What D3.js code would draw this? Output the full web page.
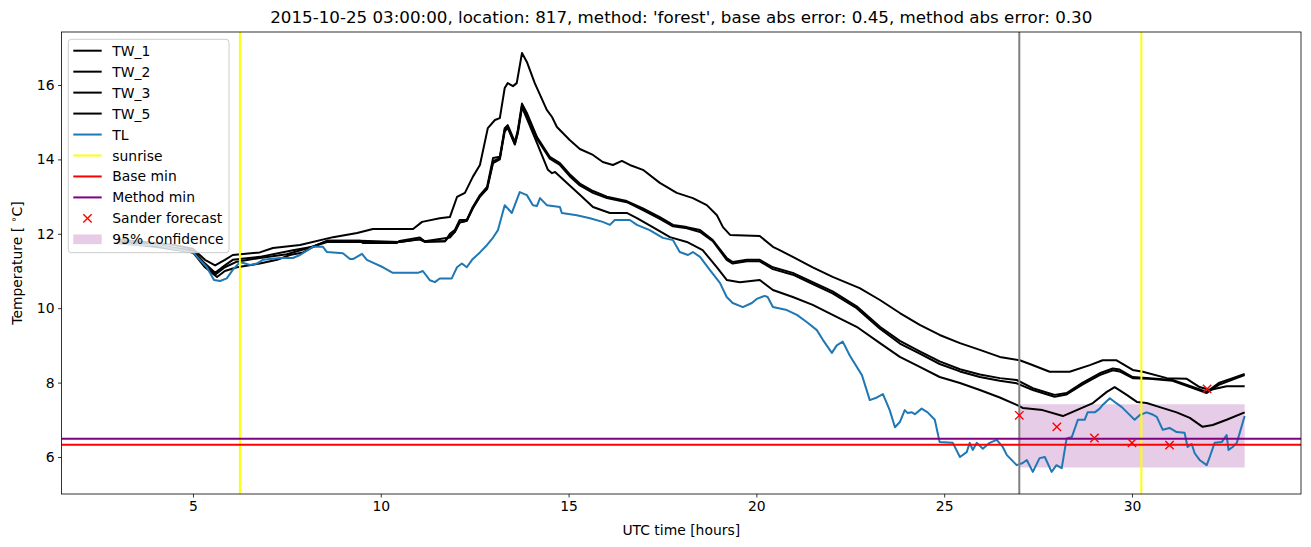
<!DOCTYPE html>
<html><head><meta charset="utf-8">
<script src="https://cdn.jsdelivr.net/npm/d3@7"></script>
<style>body{margin:0;background:#fff} svg{display:block} text{font-family:"DejaVu Sans",sans-serif;fill:#000}</style>
</head><body><svg id="c" width="1311" height="547"></svg>
<script>
// ---- data (hours since start of day UTC, temperature in °C) ----
const tw1Readings = [[3,11.85],[4,11.75],[4.5,11.7],[5,11.6],[5.32,11.3],[5.59,11.15],[5.85,11.3],[6.06,11.43],[6.78,11.5],[7.13,11.62],[7.85,11.7],[8.73,11.91],[9.37,12.02],[9.79,12.13],[10.86,12.13],[11.1,12.32],[11.57,12.42],[11.84,12.45],[12.03,12.99],[12.24,13.1],[12.45,13.53],[12.64,13.85],[12.85,14.84],[13.04,15.06],[13.17,15.11],[13.3,15.92],[13.38,16.05],[13.52,15.97],[13.62,16.05],[13.76,16.86],[13.89,16.62],[14.1,16.05],[14.42,15.33],[14.56,15.14],[14.69,14.87],[15.03,14.52],[15.3,14.28],[15.65,14.12],[15.91,13.93],[16.18,13.85],[16.42,13.96],[16.63,13.85],[16.98,13.72],[17.43,13.37],[17.88,13.1],[18.31,12.96],[18.68,12.77],[18.95,12.5],[19.11,12.18],[19.3,11.97],[20.09,11.94],[20.44,11.65],[20.62,11.56],[20.97,11.38],[21.5,11.1],[22.03,10.84],[22.75,10.54],[23.29,10.22],[23.82,9.87],[24.35,9.55],[24.88,9.28],[25.42,9.06],[25.95,8.88],[26.48,8.69],[27.01,8.6],[27.28,8.5],[27.81,8.29],[28.34,8.29],[28.88,8.47],[29.22,8.6],[29.59,8.6],[30.02,8.34],[30.29,8.29],[30.93,8.12],[31.46,8.1],[31.8,7.88],[32.07,7.8],[32.52,7.9],[33,7.9]];
const tw2Readings = [[3,11.8],[4,11.7],[5,11.55],[5.32,11.2],[5.59,10.95],[5.85,11.15],[6.06,11.3],[6.78,11.38],[7.66,11.56],[8.19,11.65],[8.57,11.81],[9.45,11.81],[9.53,11.75],[10.43,11.75],[10.5,11.81],[11.04,11.9],[11.17,11.8],[11.71,11.8],[11.84,12.0],[11.97,12.1],[12.1,12.37],[12.29,12.37],[12.45,12.72],[12.64,13.04],[12.83,13.26],[12.99,14.04],[13.17,14.07],[13.3,14.84],[13.38,14.92],[13.57,14.47],[13.65,14.79],[13.76,15.5],[13.89,15.25],[14.16,14.6],[14.5,14.07],[14.77,13.9],[15.03,13.6],[15.3,13.35],[15.65,13.15],[16.02,13.0],[16.55,12.88],[16.98,12.68],[17.43,12.45],[17.78,12.24],[18.15,12.18],[18.5,12.1],[18.84,11.83],[19.21,11.35],[19.37,11.24],[19.75,11.3],[20.09,11.3],[20.44,11.1],[20.97,10.95],[21.5,10.7],[22.03,10.45],[22.67,10.05],[23.29,9.5],[23.82,9.12],[24.35,8.84],[24.88,8.57],[25.42,8.36],[25.95,8.22],[26.48,8.12],[26.93,8.07],[27.36,7.85],[27.94,7.67],[28.26,7.72],[28.69,8.0],[29.14,8.25],[29.49,8.38],[29.67,8.35],[30.02,8.15],[30.47,8.12],[31.08,8.07],[31.62,7.88],[31.99,7.75],[32.33,8.0],[32.68,8.12],[33,8.23]];
const tw3Readings = [[3,11.75],[4,11.7],[5,11.5],[5.32,11.15],[5.59,10.9],[5.85,11.1],[6.17,11.25],[6.78,11.35],[7.5,11.45],[8.0,11.6],[8.57,11.78],[9.45,11.78],[10.5,11.78],[11.04,11.85],[11.17,11.78],[11.71,11.8],[11.84,11.95],[11.97,12.05],[12.1,12.3],[12.29,12.35],[12.45,12.68],[12.64,13.0],[12.83,13.22],[12.99,13.95],[13.17,14.03],[13.3,14.8],[13.38,14.88],[13.57,14.42],[13.65,14.75],[13.76,15.45],[13.89,15.2],[14.16,14.55],[14.5,14.02],[14.77,13.85],[15.03,13.55],[15.3,13.3],[15.65,13.1],[16.02,12.96],[16.55,12.85],[16.98,12.64],[17.43,12.4],[17.78,12.2],[18.15,12.15],[18.5,12.05],[18.84,11.8],[19.21,11.3],[19.37,11.2],[19.75,11.26],[20.09,11.26],[20.44,11.05],[20.97,10.9],[21.5,10.65],[22.03,10.4],[22.67,10.0],[23.29,9.45],[23.82,9.05],[24.35,8.78],[24.88,8.5],[25.42,8.3],[25.95,8.15],[26.48,8.05],[26.93,7.98],[27.36,7.8],[27.94,7.62],[28.26,7.68],[28.69,7.95],[29.14,8.2],[29.49,8.33],[29.67,8.3],[30.02,8.12],[30.47,8.1],[31.08,8.05],[31.62,7.85],[31.99,7.72],[32.33,7.95],[32.68,8.08],[33,8.2]];
const tw5Readings = [[3,11.75],[4,11.65],[5,11.5],[5.32,11.1],[5.64,10.84],[5.85,11.0],[6.17,11.1],[6.78,11.2],[7.24,11.3],[7.58,11.43],[7.93,11.5],[8.3,11.7],[8.57,11.81],[9.45,11.81],[10.5,11.78],[11.04,11.85],[11.17,11.8],[11.84,11.9],[11.97,12.05],[12.1,12.3],[12.29,12.35],[12.45,12.7],[12.64,13.0],[12.83,13.2],[12.99,13.9],[13.17,14.0],[13.3,14.75],[13.38,14.85],[13.57,14.4],[13.65,14.7],[13.76,15.4],[13.89,15.1],[14.16,14.44],[14.45,13.72],[14.56,13.63],[14.64,13.66],[14.95,13.37],[15.3,13.05],[15.65,12.72],[16.1,12.56],[16.55,12.56],[16.82,12.42],[17.24,12.18],[17.7,11.91],[18.15,11.78],[18.57,11.56],[18.95,11.1],[19.21,10.76],[19.56,10.7],[20.09,10.76],[20.44,10.49],[20.97,10.3],[21.5,10.09],[22.03,9.82],[22.67,9.5],[23.29,9.06],[23.82,8.69],[24.35,8.42],[24.88,8.15],[25.42,7.99],[25.95,7.8],[26.48,7.6],[26.93,7.4],[27.09,7.32],[27.62,7.26],[28.16,7.1],[28.53,7.26],[28.96,7.45],[29.33,7.75],[29.54,7.88],[29.86,7.67],[30.13,7.48],[30.39,7.45],[30.74,7.34],[31.19,7.2],[31.54,7.05],[31.88,6.81],[32.15,6.86],[32.52,7.0],[33,7.2]];
const tlReadings = [[3.0,11.75],[3.5,11.7],[4.0,11.7],[4.5,11.6],[5.0,11.5],[5.37,11.1],[5.56,10.76],[5.72,10.73],[5.9,10.8],[6.06,11.03],[6.25,11.24],[6.52,11.16],[6.7,11.2],[6.86,11.3],[7.32,11.35],[7.66,11.35],[7.85,11.43],[8.19,11.65],[8.46,11.65],[8.57,11.51],[8.99,11.48],[9.18,11.32],[9.26,11.32],[9.5,11.46],[9.63,11.3],[9.76,11.24],[10.06,11.1],[10.32,10.95],[10.99,10.95],[11.12,11.0],[11.31,10.75],[11.44,10.7],[11.57,10.8],[11.89,10.8],[12.03,11.1],[12.16,11.2],[12.29,11.1],[12.43,11.3],[12.64,11.5],[12.83,11.7],[12.99,11.9],[13.12,12.1],[13.3,12.77],[13.49,12.56],[13.7,13.12],[13.89,13.04],[14.05,12.77],[14.16,12.75],[14.24,12.96],[14.42,12.77],[14.77,12.72],[14.82,12.56],[15.22,12.5],[15.57,12.42],[15.91,12.32],[16.1,12.24],[16.23,12.37],[16.63,12.37],[16.82,12.24],[17.16,12.1],[17.51,11.89],[17.78,11.83],[17.96,11.51],[18.18,11.43],[18.31,11.51],[18.5,11.38],[18.76,11.03],[19.03,10.68],[19.21,10.3],[19.37,10.14],[19.64,10.03],[19.88,10.14],[20.01,10.25],[20.22,10.33],[20.3,10.3],[20.44,10.03],[20.81,9.95],[21.08,9.82],[21.34,9.63],[21.61,9.41],[21.77,9.15],[22.01,8.8],[22.14,9.0],[22.3,9.1],[22.49,8.72],[22.81,8.2],[23.02,7.53],[23.21,7.6],[23.37,7.69],[23.55,7.26],[23.69,6.8],[23.82,6.94],[23.95,7.26],[24.03,7.18],[24.14,7.2],[24.22,7.15],[24.4,7.3],[24.56,7.2],[24.75,7.0],[24.88,6.4],[25.23,6.38],[25.42,6.0],[25.6,6.13],[25.68,6.38],[25.76,6.19],[25.87,6.38],[26.03,6.22],[26.21,6.38],[26.4,6.46],[26.56,6.27],[26.67,6.05],[26.93,5.78],[27.09,5.84],[27.2,5.92],[27.36,5.6],[27.54,5.97],[27.68,6.0],[27.86,5.6],[27.99,5.78],[28.13,5.7],[28.26,6.5],[28.4,6.54],[28.56,7.0],[28.74,7.0],[28.82,7.2],[29.01,7.2],[29.14,7.3],[29.22,7.4],[29.41,7.58],[29.54,7.48],[29.73,7.34],[29.89,7.18],[30.07,7.0],[30.21,7.13],[30.39,7.2],[30.53,7.15],[30.66,7.08],[30.82,6.73],[31.0,6.78],[31.19,6.67],[31.4,6.65],[31.48,6.27],[31.59,6.35],[31.67,6.1],[31.8,5.92],[31.99,5.78],[32.07,6.0],[32.2,6.38],[32.39,6.4],[32.52,6.59],[32.57,6.19],[32.68,6.27],[32.79,6.38],[33.0,7.1]];
const sunriseHours = [6.25, 30.25];
const forecastHour = [27];
const baseMin = [6.33];
const methodMin = [6.49];
const sanderHours = [27, 28, 29, 30, 31, 32];
const sanderTemps = [7.12, 6.81, 6.51, 6.38, 6.32, 7.83];
const confHours = [27, 33];
const confLow = [5.72, 5.72];
const confHigh = [7.42, 7.42];
const xTicks = [5, 10, 15, 20, 25, 30];
const yTicks = [6, 8, 10, 12, 14, 16];
const titleText = "2015-10-25 03:00:00, location: 817, method: 'forest', base abs error: 0.45, method abs error: 0.30";

// ---- layout ----
const L = 61.5, R = 1301, T = 32, B = 494;
const svg = d3.select("#c");
const x = d3.scaleLinear().domain([1.5, 34.5]).range([L, R]);
const y = d3.scaleLinear().domain([5.005, 17.425]).range([B, T]);
const fs = 13.9;

const clip = svg.append("defs").append("clipPath").attr("id", "pa")
  .append("rect").attr("x", L).attr("y", T).attr("width", R - L).attr("height", B - T);
const g = svg.append("g").attr("clip-path", "url(#pa)");

// confidence band
const band = confHours.map((h, i) => ({h, lo: confLow[i], hi: confHigh[i]}));
g.append("path").datum(band)
  .attr("d", d3.area().x(d => x(d.h)).y0(d => y(d.lo)).y1(d => y(d.hi)))
  .attr("fill", "purple").attr("fill-opacity", 0.2);

const line = d3.line().x(d => x(d[0])).y(d => y(d[1]));
[tw1Readings, tw2Readings, tw3Readings, tw5Readings].forEach(s => {
  g.append("path").datum(s).attr("d", line).attr("fill", "none")
    .attr("stroke", "#000").attr("stroke-width", 2).attr("stroke-linejoin", "round");
});
g.append("path").datum(tlReadings).attr("d", line).attr("fill", "none")
  .attr("stroke", "#1f77b4").attr("stroke-width", 2).attr("stroke-linejoin", "round");

// vertical lines
sunriseHours.forEach(h => g.append("line").attr("x1", x(h)).attr("x2", x(h)).attr("y1", T).attr("y2", B)
  .attr("stroke", "#ffff00").attr("stroke-width", 2));
forecastHour.forEach(h => g.append("line").attr("x1", x(h)).attr("x2", x(h)).attr("y1", T).attr("y2", B)
  .attr("stroke", "#808080").attr("stroke-width", 2));
// horizontal lines
baseMin.forEach(v => g.append("line").attr("x1", L).attr("x2", R).attr("y1", y(v)).attr("y2", y(v))
  .attr("stroke", "#ff0000").attr("stroke-width", 2));
methodMin.forEach(v => g.append("line").attr("x1", L).attr("x2", R).attr("y1", y(v)).attr("y2", y(v))
  .attr("stroke", "#800080").attr("stroke-width", 2));

// sander markers
const ms = 4.2;
sanderHours.forEach((h, i) => {
  const cx = x(h), cy = y(sanderTemps[i]);
  g.append("path").attr("d", `M${cx-ms},${cy-ms}L${cx+ms},${cy+ms}M${cx-ms},${cy+ms}L${cx+ms},${cy-ms}`)
    .attr("stroke", "#ff0000").attr("stroke-width", 1.4).attr("fill", "none");
});

// axes
const xa = svg.append("g").attr("transform", `translate(0,${B})`)
  .call(d3.axisBottom(x).tickValues(xTicks).tickSize(3.5).tickPadding(3.5).tickFormat(d3.format("d")));
const ya = svg.append("g").attr("transform", `translate(${L},0)`)
  .call(d3.axisLeft(y).tickValues(yTicks).tickSize(3.5).tickPadding(3.5).tickFormat(d3.format("d")));
[xa, ya].forEach(a => {
  a.select(".domain").remove();
  a.selectAll(".tick line").attr("stroke", "#000").attr("stroke-width", 0.8);
  a.selectAll("text").attr("font-size", fs).attr("font-family", "DejaVu Sans");
});
svg.append("rect").attr("x", L).attr("y", T).attr("width", R - L).attr("height", B - T)
  .attr("fill", "none").attr("stroke", "#000").attr("stroke-width", 0.8);

// labels
svg.append("text").attr("x", (L + R) / 2).attr("y", 23).attr("text-anchor", "middle")
  .attr("font-size", 16.7).text(titleText);
svg.append("text").attr("x", (L + R) / 2).attr("y", 535).attr("text-anchor", "middle")
  .attr("font-size", fs).text("UTC time [hours]");
const yl = svg.append("text").attr("transform", `translate(22,${(T + B) / 2}) rotate(-90)`)
  .attr("text-anchor", "middle").attr("font-size", fs);
yl.append("tspan").text("Temperature [ ");
yl.append("tspan").attr("font-size", fs * 0.7).attr("dy", -5).text("∘");
yl.append("tspan").attr("dy", 5).text("C]");

// legend
const lg = svg.append("g");
lg.append("rect").attr("x", 68.3).attr("y", 39.3).attr("width", 160.7).attr("height", 213.4)
  .attr("rx", 3).attr("fill", "#fff").attr("fill-opacity", 0.8).attr("stroke", "#cccccc").attr("stroke-width", 1);
const items = [
  {label: "TW_1", type: "line", color: "#000"},
  {label: "TW_2", type: "line", color: "#000"},
  {label: "TW_3", type: "line", color: "#000"},
  {label: "TW_5", type: "line", color: "#000"},
  {label: "TL", type: "line", color: "#1f77b4"},
  {label: "sunrise", type: "line", color: "#ffff00"},
  {label: "Base min", type: "line", color: "#ff0000"},
  {label: "Method min", type: "line", color: "#800080"},
  {label: "Sander forecast", type: "x", color: "#ff0000"},
  {label: "95% confidence", type: "patch", color: "purple"}
];
items.forEach((it, i) => {
  const cy = 50.7 + i * 20.96;
  if (it.type === "line") {
    lg.append("line").attr("x1", 73.3).attr("x2", 101.7).attr("y1", cy).attr("y2", cy)
      .attr("stroke", it.color).attr("stroke-width", 2);
  } else if (it.type === "x") {
    const cx = 87.5;
    lg.append("path").attr("d", `M${cx-ms},${cy-ms}L${cx+ms},${cy+ms}M${cx-ms},${cy+ms}L${cx+ms},${cy-ms}`)
      .attr("stroke", it.color).attr("stroke-width", 1.4);
  } else {
    lg.append("rect").attr("x", 73.3).attr("y", cy - 4.9).attr("width", 28.4).attr("height", 9.7)
      .attr("fill", it.color).attr("fill-opacity", 0.2);
  }
  lg.append("text").attr("x", 112.3).attr("y", cy).attr("dy", "0.36em").attr("font-size", fs).text(it.label);
});
</script>
</body></html>
